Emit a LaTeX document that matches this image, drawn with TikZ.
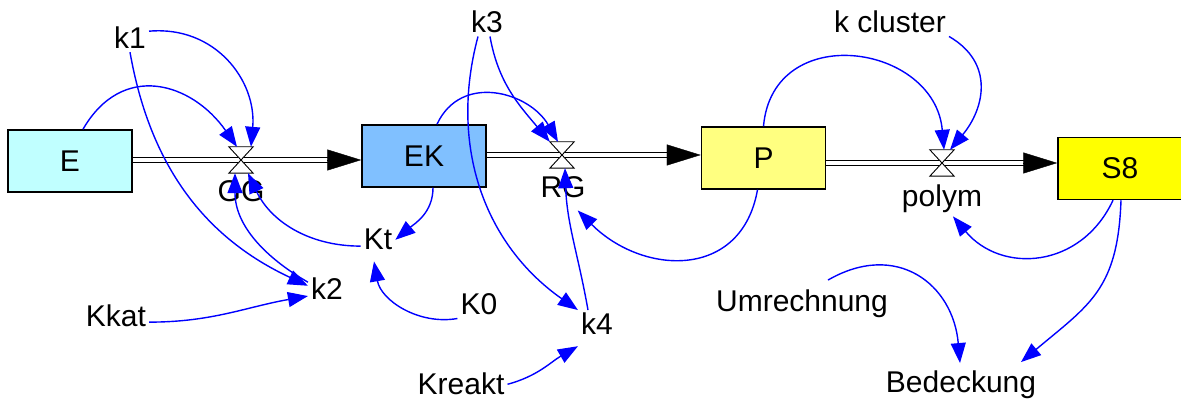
\documentclass[tikz,border=0pt]{standalone}
\usepackage{fontspec}
\setmainfont{Liberation Sans}
\usetikzlibrary{arrows.meta,calc}

\definecolor{fillE}{RGB}{192,255,255}
\definecolor{fillEK}{RGB}{128,192,255}
\definecolor{fillP}{RGB}{255,255,128}
\definecolor{fillS}{RGB}{255,255,0}

\begin{document}
\begin{tikzpicture}[x=1pt,y=1pt,
  every node/.style={font=\fontsize{30}{36}\selectfont},
  stock/.style={draw=black,line width=1.5pt,minimum width=124pt,minimum height=62pt,inner sep=0pt},
  valve/.style={minimum width=24pt,minimum height=26pt,inner sep=0pt},
  aux/.style={anchor=base,inner sep=3pt},
  link/.style={draw=blue,line width=1.4pt,-{Triangle[length=20pt,width=15pt]}},
  pipe/.style={draw=black,double=white,double distance=3.6pt,line width=1.3pt},
  pipetip/.style={draw=black,line width=0.4pt,-{Triangle[length=34pt,width=21pt]}}]
\useasboundingbox (0,0) rectangle (1181,401);

\node[stock,fill=fillE] (E) at (70,240) {E};
\node[stock,fill=fillEK] (EK) at (424,245) {EK};
\node[stock,fill=fillP] (P) at (763.5,243) {P};
\node[stock,fill=fillS] (S8) at (1120,232.5) {S8};

\node[valve] (GG) at (241,241) {};
\node[valve] (RG) at (562,246) {};
\node[valve] (polym) at (942,238) {};

\node[aux] (GGtext) at (241,199) {GG};
\node[aux] (RGtext) at (563,203) {RG};
\node[aux] (polymtext) at (942,194) {polym};

\node[aux] (k1) at (130,352) {k1};
\node[aux] (k2) at (327,101) {k2};
\node[aux] (Kkat) at (116,74) {Kkat};
\node[aux] (Kt) at (378,151) {Kt};
\node[aux] (K0) at (479,86) {K0};
\node[aux] (k3) at (487,368) {k3};
\node[aux] (k4) at (597,66) {k4};
\node[aux] (Kreakt) at (461,6) {Kreakt};
\node[aux] (kcluster) at (890,368) {k cluster};
\node[aux] (Umr) at (802,89) {Umrechnung};
\node[aux] (Bed) at (961,8) {Bedeckung};

% pipes
\draw[pipe] (E.east |- GG) -- ($(EK.west |- GG)+(-33,0)$);
\draw[pipetip] ($(EK.west |- GG)+(-34,0)$) -- (EK.west |- GG);
\draw[pipe] (EK.east |- RG) -- ($(P.west |- RG)+(-33,0)$);
\draw[pipetip] ($(P.west |- RG)+(-34,0)$) -- (P.west |- RG);
\draw[pipe] (P.east |- polym) -- ($(S8.west |- polym)+(-33,0)$);
\draw[pipetip] ($(S8.west |- polym)+(-34,0)$) -- (S8.west |- polym);

% valves
\filldraw[fill=white,line width=0.9pt] (GG.north west) -- (GG.north east) -- (GG.south west) -- (GG.south east) -- cycle;
\filldraw[fill=white,line width=0.9pt] (RG.north west) -- (RG.north east) -- (RG.south west) -- (RG.south east) -- cycle;
\filldraw[fill=white,line width=0.9pt] (polym.north west) -- (polym.north east) -- (polym.south west) -- (polym.south east) -- cycle;

% links
\path (k1.20) edge[link,out=5,in=85,looseness=1.1] ([xshift=10pt]GG.north);
\path ([xshift=13pt]E.north) edge[link,out=60,in=125,looseness=1.3] ([xshift=-4pt]GG.north);
\path (k1.south) edge[link,out=-80,in=155] (k2.170);
\path (k2.160) edge[link,out=150,in=-90] ([xshift=-6pt]GG.south);
\path (Kt.200) edge[link,out=180,in=-65] ([xshift=7pt]GG.south);
\path (Kkat.-10) edge[link,out=0,in=190] (k2.200);
\path ([xshift=9pt]EK.south) edge[link,out=-90,in=40] (Kt.east);
\path (K0.south west) edge[link,out=190,in=-80] ([shift={(-4pt,-8pt)}]Kt.south);
\path ([xshift=13pt]EK.north) edge[link,out=65,in=120,looseness=1.2] ([xshift=-4pt]RG.north);
\path ([xshift=3pt]k3.south) edge[link,out=-80,in=130] (RG.north west);
\path ([xshift=-9pt]k3.south) edge[link,out=-105,in=145] (k4.north west);
\path ([xshift=-9pt]k4.north) edge[link,out=100,in=-88] ([xshift=3pt]RG.south);
\path (Kreakt.east) edge[link,out=15,in=210] ([yshift=-8pt]k4.south west);
\path ([xshift=-6pt]P.south) edge[link,out=-100,in=-45,looseness=1.3] ([shift={(-11pt,-9pt)}]RGtext.south east);
\path (P.north) edge[link,out=85,in=95,looseness=1.5] ([xshift=2pt]polym.north);
\path (kcluster.south east) edge[link,out=-30,in=50,looseness=1.2] ([xshift=8pt]polym.north);
\path ([xshift=-7pt]S8.south) edge[link,out=-115,in=-50,looseness=1.2] ([xshift=11pt]polymtext.south);
\path ([xshift=1pt]S8.south) edge[link,out=-92,in=40,looseness=1.2] ([shift={(60pt,6pt)}]Bed.north);
\path ([shift={(26pt,7pt)}]Umr.north) edge[link,out=30,in=95,looseness=1.3] ([shift={(-1pt,5pt)}]Bed.north);
\end{tikzpicture}
\end{document}
